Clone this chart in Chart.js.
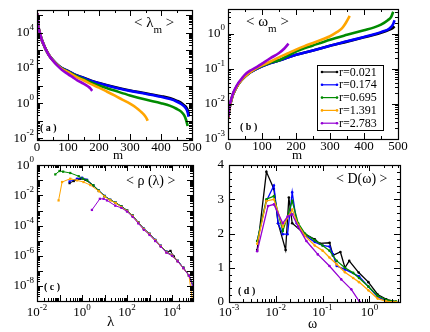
<!DOCTYPE html>
<html>
<head>
<meta charset="utf-8">
<script src="https://cdn.jsdelivr.net/npm/chart.js@4.4.0/dist/chart.umd.min.js"></script>
<style>
  html, body { margin: 0; padding: 0; background: #fff; }
  #wrap { position: relative; width: 430px; height: 332px; }
  #wrap canvas { position: absolute; left: 0; top: 0; }
</style>
</head>
<body>
<div id="wrap">
  <canvas id="pa" width="430" height="332"></canvas>
  <canvas id="pb" width="430" height="332"></canvas>
  <canvas id="pc" width="430" height="332"></canvas>
  <canvas id="pd" width="430" height="332"></canvas>
</div>
<script>
const seriesLabels = ['r=0.021', 'r=0.174', 'r=0.695', 'r=1.391', 'r=2.783'];
const seriesColors = ['#000000', '#0000ff', '#008b00', '#ffa500', '#9400d3'];

// (a) <lambda_m> vs m
const aM = [
  [1,3,6,10,15,20,30,40,50,65,80,100,125,150,175,200,250,300,350,400,430,450,465,475,482,487,490],
  [1,3,6,10,15,20,30,40,50,65,80,100,125,150,175,200,250,300,350,400,430,450,465,475,482,486,489],
  [1,3,6,10,15,20,30,40,50,65,80,100,125,150,175,200,250,300,350,400,430,450,465,475,481,486],
  [1,3,6,10,15,20,30,40,50,65,80,100,125,150,175,200,225,250,275,300,320,335,345,352,357],
  [1,3,6,10,15,20,30,40,50,65,80,100,115,130,150,165,172,178]
];
const aLam = [
  [1.3e5,4e4,1.6e4,9e3,4200,2500,1000,500,300,160,100,68,40,28,19,14,8.2,5.3,3.7,2.5,1.9,1.4,1.05,0.75,0.55,0.35,0.2],
  [1.3e5,4e4,1.6e4,9e3,4200,2500,1000,500,300,160,100,67,39,27,18.5,13.5,7.8,5.0,3.4,2.3,1.7,1.25,0.9,0.65,0.45,0.3,0.17],
  [1.3e5,4e4,1.6e4,9e3,4200,2500,1000,500,295,155,95,62,36,23,15,10,5.2,2.75,1.6,1.0,0.7,0.48,0.33,0.2,0.11,0.05],
  [1.3e5,4e4,1.6e4,9e3,4200,2500,1000,500,290,150,90,58,32,20,12,7.6,4.6,2.75,1.6,0.93,0.55,0.33,0.22,0.15,0.1],
  [1.3e5,4e4,1.6e4,9e3,4200,2500,1000,480,280,140,80,45,30,20,13,8.8,7,5]
];

// (b) <omega_m> vs m
const bM = [
  [1,3,6,10,15,20,30,40,50,65,80,100,125,150,200,250,300,350,400,430,450,475,485,490],
  [1,3,6,10,15,20,30,40,50,65,80,100,125,150,200,250,300,350,400,430,450,475,485,490],
  [1,3,6,10,15,20,30,40,50,65,80,100,125,150,200,250,300,350,400,430,450,470,480,486],
  [1,3,6,10,15,20,30,40,50,65,80,100,125,150,175,200,225,250,275,300,320,335,345,352,358],
  [1,3,6,10,15,20,30,40,50,65,80,100,125,150,165,178]
];
const bOm = [
  [0.004,0.0062,0.009,0.013,0.019,0.024,0.036,0.048,0.06,0.078,0.095,0.117,0.145,0.17,0.25,0.33,0.45,0.59,0.78,0.92,1.05,1.3,1.45,1.6],
  [0.004,0.0062,0.009,0.013,0.019,0.024,0.036,0.048,0.06,0.078,0.095,0.117,0.145,0.17,0.25,0.33,0.45,0.6,0.8,0.95,1.1,1.4,1.8,2.4],
  [0.004,0.0062,0.009,0.013,0.019,0.024,0.036,0.048,0.06,0.079,0.097,0.12,0.15,0.175,0.31,0.46,0.67,0.92,1.24,1.5,1.8,2.4,3.0,4.2],
  [0.004,0.0062,0.009,0.013,0.019,0.024,0.036,0.048,0.061,0.08,0.099,0.125,0.16,0.21,0.27,0.35,0.44,0.54,0.67,0.84,1.1,1.4,1.9,2.5,3.2],
  [0.0042,0.0068,0.01,0.014,0.02,0.026,0.039,0.052,0.068,0.088,0.105,0.14,0.2,0.28,0.37,0.52]
];

// (c) <rho(lambda)>
const cLam = [
  [0.28,0.43,0.85,1.41,3.16,5.62,10,17.8,31.6,56.2,100,178,316,562,1000,1780,3160,5620,8500,1.2e4,1.78e4,3.16e4,5.62e4,8.5e4],
  [0.28,0.6,1.0,1.66,3.16,5.62,10,17.8,31.6,56.2,100,178,316,562,1000,1780,3160,5620,1e4,1.78e4,3.16e4,5.62e4,8.5e4],
  [0.065,0.1,0.145,0.3,0.71,1.1,1.7,3.16,5.62,10,17.8,31.6,56.2,100,178,316,562,1000,1780,3160,5620,1e4,1.78e4,3.16e4,5.62e4,8.5e4],
  [0.091,0.13,0.3,0.6,1.17,2.34,5.62,10,17.8,31.6,56.2,100,178,316,562,1000,1780,3160,5620,1e4,1.78e4,3.16e4,5.62e4,8e4],
  [2.75,6.2,9.1,12.9,30,56.2,100,178,316,562,1000,1780,3160,5620,1e4,1.78e4,3.16e4,5.62e4,8.5e4]
];
const cRho = [
  [0.066,0.091,0.129,0.11,0.045,0.02,0.009,0.005,0.0032,0.0018,0.001,4.5e-4,1.6e-4,6e-5,2.8e-5,1.1e-5,4.5e-6,1.8e-6,2.1e-6,9e-7,4.5e-7,1.6e-7,5e-8,1e-8],
  [0.085,0.129,0.15,0.11,0.047,0.021,0.0095,0.0052,0.0033,0.0019,0.00105,4.6e-4,1.65e-4,6.2e-5,2.9e-5,1.15e-5,4.6e-6,1.9e-6,1.1e-6,4.6e-7,1.6e-7,5e-8,1e-8],
  [0.25,0.42,0.38,0.31,0.19,0.13,0.1,0.048,0.021,0.0092,0.0051,0.0033,0.0019,0.001,4.6e-4,1.6e-4,6.1e-5,2.8e-5,1.1e-5,4.5e-6,1.8e-6,1.1e-6,4.6e-7,1.6e-7,5e-8,1.1e-8],
  [0.0047,0.078,0.129,0.1,0.078,0.049,0.019,0.0085,0.0048,0.0031,0.0017,0.00095,4.3e-4,1.55e-4,5.8e-5,2.7e-5,1.05e-5,4.3e-6,1.7e-6,1.05e-6,4.3e-7,1.5e-7,5e-8,1.1e-9],
  [0.0011,0.006,0.006,0.0047,0.0021,0.0015,8.5e-4,3.8e-4,1.4e-4,5.2e-5,2.4e-5,9.5e-6,4e-6,1.6e-6,1.0e-6,4.2e-7,1.5e-7,4.8e-8,9e-9]
];

// (d) <D(omega)>
const dOm = [
  [0.004,0.0063,0.0091,0.0112,0.0162,0.019,0.0224,0.042,0.068,0.087,0.141,0.166,0.24,0.3,0.37,0.59,0.95,1.5,2.3,3.7],
  [0.004,0.0063,0.0091,0.0112,0.0141,0.0178,0.0224,0.028,0.042,0.068,0.1,0.14,0.166,0.2,0.3,0.6,0.95,1.5,2.3],
  [0.004,0.0063,0.0091,0.0141,0.0224,0.03,0.042,0.068,0.1,0.14,0.2,0.3,0.45,0.6,0.95,1.5,2.3,3.7],
  [0.004,0.0063,0.0091,0.0141,0.0224,0.03,0.042,0.068,0.1,0.14,0.2,0.3,0.45,0.6,0.95,1.5,2.3,3.7],
  [0.004,0.0068,0.0091,0.0141,0.018,0.0224,0.03,0.045,0.079,0.14,0.25,0.41,0.62]
];
const dD = [
  [1.52,3.8,3.3,2.3,1.52,3.05,2.3,1.98,1.83,1.71,1.73,1.36,1.46,1.0,1.2,0.86,0.58,0.22,0.08,0.0],
  [1.78,2.95,3.4,2.3,1.98,1.98,3.2,2.3,1.95,1.75,1.65,1.62,1.4,1.05,0.95,0.75,0.45,0.15,0.03],
  [1.78,3.0,3.09,2.07,2.95,2.3,2.0,1.8,1.65,1.5,1.2,1.0,0.85,0.7,0.45,0.18,0.06,0.02],
  [1.7,2.95,3.0,2.2,2.7,2.25,1.93,1.65,1.5,1.3,1.1,0.87,0.7,0.58,0.34,0.1,0.02,0.0],
  [1.48,2.8,2.85,2.3,2.5,2.56,2.2,1.78,1.39,1.05,0.66,0.37,0.0]
];

// tick labels
const abXTicks = [0, 100, 200, 300, 400, 500];
const aYTicks = [1e-2, 1, 1e2, 1e4];
const bYTicks = [1e-3, 1e-2, 1e-1, 1];
const cXTicks = [1e-2, 1, 1e2, 1e4];
const cYTicks = [1e-8, 1e-6, 1e-4, 1e-2, 1];
const dXTicks = [1e-3, 1e-2, 1e-1, 1];
const dYTicks = [0, 1, 2, 3, 4];

const FONT = '"Liberation Serif", "Times New Roman", serif';

function drawSup(ctx, v, log, x, y, align, size) {
  let base = String(v), exp = '';
  if (log) { base = '10'; exp = String(Math.round(Math.log10(v))); }
  ctx.font = size + 'px ' + FONT;
  const wb = ctx.measureText(base).width;
  const es = Math.round(size * 0.68);
  ctx.font = es + 'px ' + FONT;
  const we = exp ? ctx.measureText(exp).width : 0;
  const w = wb + we;
  const x0 = align === 'center' ? x - w / 2 : x - w;
  ctx.textAlign = 'left';
  ctx.textBaseline = 'middle';
  ctx.font = size + 'px ' + FONT;
  ctx.fillText(base, x0, y);
  if (exp) {
    ctx.font = es + 'px ' + FONT;
    ctx.fillText(exp, x0 + wb, y - size * 0.42);
  }
}

// segments: [text, shift, size, bold]
function drawRich(ctx, segs, x, y) {
  ctx.textAlign = 'left';
  ctx.textBaseline = 'middle';
  segs.forEach(s => {
    ctx.font = (s[3] ? 'bold ' : '') + s[2] + 'px ' + FONT;
    ctx.fillText(s[0], x, y + s[1]);
    x += ctx.measureText(s[0]).width;
  });
}

function tickList(cfg, scale) {
  const out = [];
  const min = scale.min, max = scale.max;
  if (cfg.log) {
    for (let n = Math.floor(Math.log10(min)); n <= Math.ceil(Math.log10(max)); n++) {
      for (let k = 1; k <= 9; k++) {
        const v = k * Math.pow(10, n);
        if (v >= min * 0.999 && v <= max * 1.001) out.push({ v, len: k === 1 ? 6 : 3 });
      }
    }
  } else {
    for (let i = 0; min + i * cfg.minor <= max + 1e-9; i++) {
      const v = min + i * cfg.minor;
      const q = v / cfg.major;
      out.push({ v, len: Math.abs(q - Math.round(q)) < 1e-6 ? 6 : 3 });
    }
  }
  return out;
}

const framePlugin = {
  id: 'frame',
  afterDatasetsDraw(chart, args, o) {
    const ctx = chart.ctx, a = chart.chartArea;
    const xs = chart.scales.x, ys = chart.scales.y;
    ctx.save();
    ctx.strokeStyle = '#000';
    ctx.fillStyle = '#000';
    ctx.lineWidth = 1;
    ctx.beginPath();
    tickList(o.x, xs).forEach(t => {
      const p = Math.round(xs.getPixelForValue(t.v)) + 0.5;
      ctx.moveTo(p, a.bottom); ctx.lineTo(p, a.bottom - t.len);
      ctx.moveTo(p, a.top); ctx.lineTo(p, a.top + t.len);
    });
    tickList(o.y, ys).forEach(t => {
      const p = Math.round(ys.getPixelForValue(t.v)) + 0.5;
      ctx.moveTo(a.left, p); ctx.lineTo(a.left + t.len, p);
      ctx.moveTo(a.right, p); ctx.lineTo(a.right - t.len, p);
    });
    ctx.stroke();
    ctx.lineWidth = 1.2;
    ctx.strokeRect(a.left + 0.5, a.top + 0.5, a.right - a.left, a.bottom - a.top);

    o.x.labels.forEach(v => drawSup(ctx, v, o.x.log, xs.getPixelForValue(v), a.bottom + o.x.gap, 'center', 13));
    o.y.labels.forEach(v => drawSup(ctx, v, o.y.log, a.left - o.y.gap, ys.getPixelForValue(v), 'right', 13));
    o.texts.forEach(t => drawRich(ctx, t.segs, t.x, t.y));

    if (o.legend) {
      const L = o.legend;
      ctx.fillStyle = '#fff';
      ctx.fillRect(L.x, L.y, L.w, L.h);
      ctx.strokeStyle = '#000';
      ctx.lineWidth = 1;
      ctx.strokeRect(L.x + 0.5, L.y + 0.5, L.w, L.h);
      seriesLabels.forEach((lab, i) => {
        const yy = L.y + 7 + i * L.step;
        ctx.strokeStyle = seriesColors[i];
        ctx.fillStyle = seriesColors[i];
        ctx.lineWidth = 1.2;
        ctx.beginPath();
        ctx.moveTo(L.x + 5, yy); ctx.lineTo(L.x + 20, yy);
        ctx.stroke();
        ctx.beginPath(); ctx.arc(L.x + 5, yy, 1.3, 0, Math.PI * 2); ctx.fill();
        ctx.beginPath(); ctx.arc(L.x + 20, yy, 1.3, 0, Math.PI * 2); ctx.fill();
        ctx.fillStyle = '#000';
        ctx.font = '12px ' + FONT;
        ctx.textAlign = 'left';
        ctx.textBaseline = 'middle';
        ctx.fillText(lab, L.x + 22, yy + 0.5);
      });
    }
    ctx.restore();
  }
};

function makeSets(xs, ys, style) {
  return seriesLabels.map((lab, i) => Object.assign({
    label: lab,
    data: xs[i].map((x, j) => ({ x: x, y: ys[i][j] })),
    borderColor: seriesColors[i],
    backgroundColor: seriesColors[i],
    order: 5 - i
  }, style));
}

function makePanel(id, area, xScale, yScale, sets, frame) {
  return new Chart(document.getElementById(id), {
    type: 'line',
    data: { datasets: sets },
    options: {
      responsive: false,
      animation: false,
      devicePixelRatio: 1,
      layout: { padding: { left: area[0], top: area[1], right: 430 - area[2], bottom: 332 - area[3] } },
      scales: {
        x: Object.assign({ display: false }, xScale),
        y: Object.assign({ display: false }, yScale)
      },
      plugins: { legend: { display: false }, tooltip: { enabled: false }, frame: frame }
    },
    plugins: [framePlugin]
  });
}

const thick = { borderWidth: 2.6, pointRadius: 0, cubicInterpolationMode: 'monotone' };

makePanel('pa', [37, 10, 192, 140],
  { type: 'linear', min: 0, max: 500 },
  { type: 'logarithmic', min: 0.008, max: 2e5 },
  makeSets(aM, aLam, thick),
  {
    x: { log: false, major: 100, minor: 50, labels: abXTicks, gap: 8 },
    y: { log: true, labels: aYTicks, gap: 3 },
    texts: [
      { x: 134, y: 23, segs: [['< \u03bb', 0, 15], ['m', 7, 11], [' >', 0, 15]] },
      { x: 40, y: 128, segs: [['( a )', 0, 10, true]] },
      { x: 113, y: 156, segs: [['m', 0, 13]] }
    ]
  });

makePanel('pb', [228, 9, 398, 139],
  { type: 'linear', min: 0, max: 500 },
  { type: 'logarithmic', min: 0.001, max: 5 },
  makeSets(bM, bOm, thick),
  {
    x: { log: false, major: 100, minor: 50, labels: abXTicks, gap: 8 },
    y: { log: true, labels: bYTicks, gap: 3 },
    texts: [
      { x: 246, y: 22, segs: [['< \u03c9', 0, 15], ['m', 7, 11], [' >', 0, 15]] },
      { x: 240, y: 127, segs: [['( b )', 0, 10, true]] },
      { x: 292, y: 156, segs: [['m', 0, 13]] }
    ],
    legend: { x: 317, y: 65, w: 66, h: 65, step: 12.8 }
  });

makePanel('pc', [37, 165, 193, 301],
  { type: 'logarithmic', min: 0.01, max: 8.5e4 },
  { type: 'logarithmic', min: 1e-9, max: 1.05 },
  makeSets(cLam, cRho, { borderWidth: 1, pointRadius: 1.6, pointStyle: 'rect', pointBorderWidth: 0 }),
  {
    x: { log: true, labels: cXTicks, gap: 12 },
    y: { log: true, labels: cYTicks, gap: 3 },
    texts: [
      { x: 126, y: 181, segs: [['< \u03c1 (\u03bb) >', 0, 14]] },
      { x: 44, y: 287, segs: [['( c )', 0, 10, true]] },
      { x: 107, y: 322, segs: [['\u03bb', 0, 15]] }
    ]
  });

makePanel('pd', [229, 165, 400, 302],
  { type: 'logarithmic', min: 0.001, max: 4.5 },
  { type: 'linear', min: 0, max: 4 },
  makeSets(dOm, dD, { borderWidth: 1.3, pointRadius: 1.3, pointBorderWidth: 0 }),
  {
    x: { log: true, labels: dXTicks, gap: 11 },
    y: { log: false, major: 1, minor: 0.2, labels: dYTicks, gap: 5 },
    texts: [
      { x: 336, y: 179, segs: [['< D(\u03c9) >', 0, 14]] },
      { x: 238, y: 291, segs: [['( d )', 0, 10, true]] },
      { x: 308, y: 324, segs: [['\u03c9', 0, 14]] }
    ]
  });
</script>
</body>
</html>
